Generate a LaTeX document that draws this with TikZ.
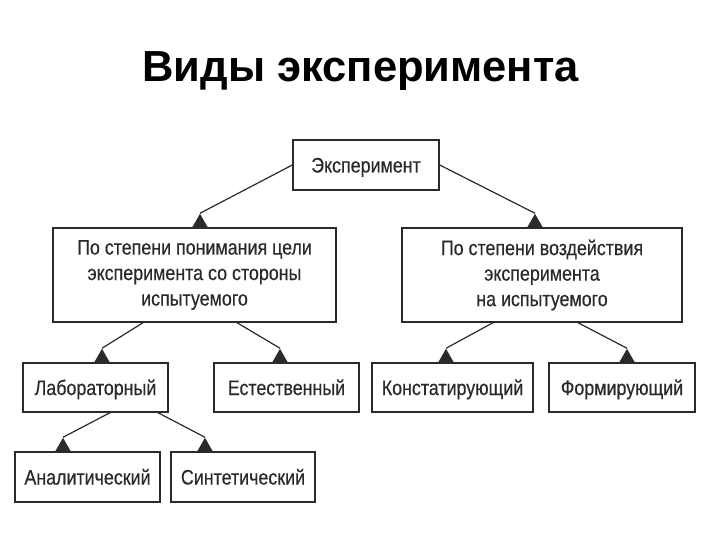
\documentclass[tikz,border=0pt]{standalone}
\usepackage{fontspec}
\setmainfont{Liberation Sans}
\newfontfamily\narrowfont[FakeStretch=0.85,FakeBold=0.4]{Liberation Sans}
\usetikzlibrary{shapes.geometric}
\definecolor{inkgray}{HTML}{2A2A2A}
\tikzset{
  box/.style={draw=inkgray, line width=1.4pt, fill=white, text=inkgray,
    inner sep=2pt, minimum height=49pt, align=center,
    font=\narrowfont\fontsize{21}{25.5}\selectfont},
  leaf/.style={box, text height=15pt, text depth=0pt},
  tipmark/.style={isosceles triangle, isosceles triangle stretches,
    shape border rotate=90, fill=inkgray, draw=none, inner sep=0pt,
    minimum width=16pt, minimum height=14pt, anchor=lower side},
  link/.style={draw=inkgray, line width=1.2pt}
}
\begin{document}
\begin{tikzpicture}[x=1pt, y=-1pt]
\useasboundingbox (0,0) rectangle (720,540);
\node[anchor=base, font=\bfseries\fontsize{43.5}{50}\selectfont] (title) at (360.5,82) {Виды эксперимента};
% boxes
\node[leaf, minimum width=146pt, minimum height=50pt] (exp) at (366,165) {Эксперимент};
\node[box, minimum width=283pt, minimum height=94pt] (goal) at (194.5,275) {По степени понимания цели\\эксперимента со стороны\\испытуемого};
\node[box, minimum width=280pt, minimum height=94pt] (impact) at (542,275) {По степени воздействия\\эксперимента\\на испытуемого};
\node[leaf, minimum width=145pt] (lab) at (95.5,387.5) {Лабораторный};
\node[leaf, minimum width=145pt] (nat) at (286.5,387.5) {Естественный};
\node[leaf, minimum width=145pt, minimum height=50pt] (anal) at (87.5,477) {Аналитический};
\node[leaf, minimum width=144pt, minimum height=50pt] (synth) at (243,477) {Синтетический};
\node[leaf, minimum width=161pt] (const) at (452.5,387.5) {Констатирующий};
\node[leaf, minimum width=146pt] (form) at (622,387.5) {Формирующий};
% arrow heads on the box tops
\node[tipmark] (tgoal) at (200,228) {};
\node[tipmark] (timpact) at (535,228) {};
\node[tipmark] (tlab) at (102,363) {};
\node[tipmark] (tnat) at (280,363) {};
\node[tipmark] (tconst) at (446,363) {};
\node[tipmark] (tform) at (627,363) {};
\node[tipmark] (tanal) at (63,452) {};
\node[tipmark] (tsynth) at (205,452) {};
% connectors
\draw[link] (exp.west) -- (tgoal.apex);
\draw[link] (exp.east) -- (timpact.apex);
\draw[link] (goal.south -| 143,0) -- (tlab.apex);
\draw[link] (goal.south -| 237,0) -- (tnat.apex);
\draw[link] (impact.south -| 493,0) -- (tconst.apex);
\draw[link] (impact.south -| 578,0) -- (tform.apex);
\draw[link] (lab.south -| 110,0) -- (tanal.apex);
\draw[link] (lab.south -| 158,0) -- (tsynth.apex);
\end{tikzpicture}
\end{document}
